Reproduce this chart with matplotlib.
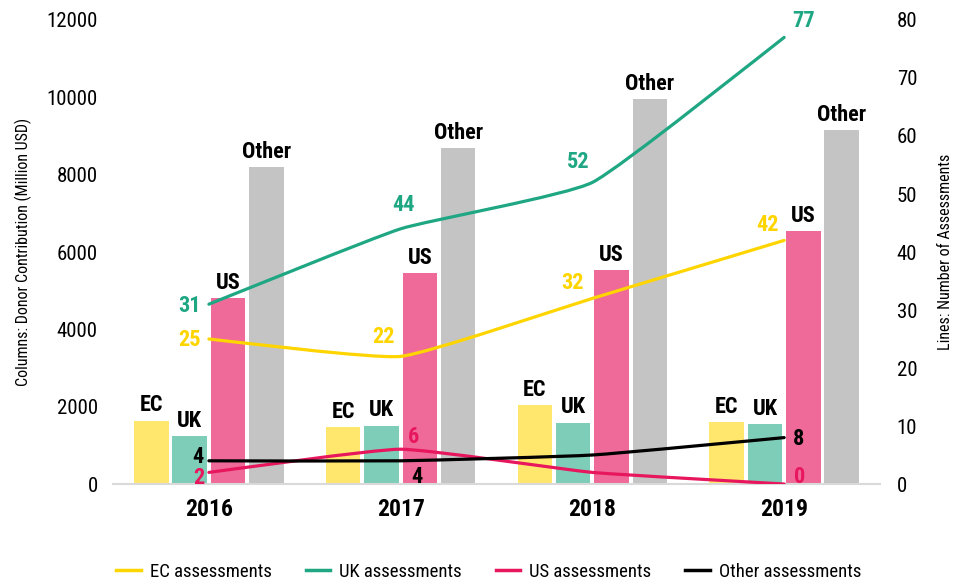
import numpy as np
import matplotlib
matplotlib.use('Agg')
import matplotlib.pyplot as plt
from matplotlib import font_manager as fm
from matplotlib.path import Path
from matplotlib.patches import PathPatch
from matplotlib.lines import Line2D

# ---- pick a condensed font if one is installed ----
names = {f.name for f in fm.fontManager.ttflist}
chosen = None
for cand in ['Roboto Condensed', 'Liberation Sans Narrow', 'Open Sans Condensed',
             'Noto Sans Condensed', 'DejaVu Sans Condensed', 'Arial Narrow']:
    if cand in names:
        chosen = cand
        break
stretch = 'normal'
if chosen is None:
    for fam in ['Roboto', 'Noto Sans', 'Open Sans', 'DejaVu Sans']:
        if any(f.name == fam and f.stretch in ('condensed', 'semi-condensed',
                                                 'extra-condensed', 'ultra-condensed')
               for f in fm.fontManager.ttflist):
            chosen = fam
            stretch = 'condensed'
            break
if chosen is None:
    chosen = 'DejaVu Sans'
plt.rcParams['font.family'] = [chosen, 'DejaVu Sans']
plt.rcParams['font.stretch'] = stretch

# ---- data ----
years = ['2016', '2017', '2018', '2019']
donors = ['EC', 'UK', 'US', 'Other']
ec_funding = [1640, 1480, 2040, 1610]
uk_funding = [1250, 1510, 1590, 1540]
us_funding = [4800, 5460, 5530, 6550]
other_funding = [8200, 8680, 9960, 9160]

ec_assess = [25, 22, 32, 42]
uk_assess = [31, 44, 52, 77]
us_assess = [2, 6, 2, 0]
other_assess = [4, 4, 5, 8]

series_names = ['EC assessments', 'UK assessments', 'US assessments', 'Other assessments']

# ---- styles ----
bar_colors = ['#FFE76E', '#7ECDB9', '#EF6A98', '#C4C4C4']
line_colors = ['#FFD500', '#1FA783', '#E8175D', '#000000']

fig = plt.figure(figsize=(9.66, 5.83), dpi=100)
ax = fig.add_axes([0.117, 0.1698, 0.794, 0.7959])
ax2 = ax.twinx()

x = np.arange(len(years))
fundings = [ec_funding, uk_funding, us_funding, other_funding]
for i, (vals, col, name) in enumerate(zip(fundings, bar_colors, donors)):
    xs = x + (i - 1.5) * 0.2
    ax.bar(xs, vals, 0.18, color=col, zorder=2)
    for xi, v in zip(xs, vals):
        ax.annotate(name, (xi, v), xytext=(0, 3), textcoords='offset points',
                    ha='center', va='bottom', fontsize=16, fontweight='bold',
                    color='black')

ax.set_xlim(-0.5, 3.5)
ax.set_ylim(0, 12000)
ax.set_yticks(np.arange(0, 12001, 2000))
ax.set_xticks(x)
ax.set_xticklabels(years, fontsize=17, fontweight='bold')
ax.tick_params(axis='x', length=0, pad=10)
ax.tick_params(axis='y', length=0, pad=11, labelsize=15)
for s in ['top', 'right', 'left']:
    ax.spines[s].set_visible(False)
ax.spines['bottom'].set_color('#D9D9D9')
ax.spines['bottom'].set_linewidth(1.5)
ax.set_ylabel('Columns: Donor Contribution (Million USD)', fontsize=11.5, labelpad=10)

ax2.set_ylim(0, 80)
ax2.set_yticks(np.arange(0, 81, 10))
ax2.tick_params(axis='y', length=0, pad=12, labelsize=15)
for s in ['top', 'right', 'left', 'bottom']:
    ax2.spines[s].set_visible(False)
ax2.set_ylabel('Lines: Number of Assessments', fontsize=11.5, labelpad=15)


def smooth_path(xs, ys, t=0.07):
    xs = list(xs); ys = list(ys)
    n = len(xs)
    verts = [(xs[0], ys[0])]
    codes = [Path.MOVETO]
    for k in range(n - 1):
        p0 = (xs[max(k - 1, 0)], ys[max(k - 1, 0)])
        p1 = (xs[k], ys[k])
        p2 = (xs[k + 1], ys[k + 1])
        p3 = (xs[min(k + 2, n - 1)], ys[min(k + 2, n - 1)])
        c1 = (p1[0] + (p2[0] - p0[0]) * t, p1[1] + (p2[1] - p0[1]) * t)
        c2 = (p2[0] - (p3[0] - p1[0]) * t, p2[1] - (p3[1] - p1[1]) * t)
        verts += [c1, c2, p2]
        codes += [Path.CURVE4] * 3
    return Path(verts, codes)


assess = [ec_assess, uk_assess, us_assess, other_assess]
for vals, col in zip(assess, line_colors):
    ax2.add_patch(PathPatch(smooth_path(x, vals), facecolor='none',
                            edgecolor=col, lw=2.3, zorder=3, capstyle='round'))

# which points carry a value label, and label offsets (points)
label_offsets = [
    [(-14, -1), (-12, 14), (-14, 11), (-12, 11)],
    [(-14, -1), (2, 17), (-10, 15), (14, 12)],
    [(-7, -4), (9, 9), None, (11, 5)],
    [(-8, 3), (12, -12), None, (10, -1)],
]
for vals, col, offs in zip(assess, line_colors, label_offsets):
    for xi, v, off in zip(x, vals, offs):
        if off is None:
            continue
        ax2.annotate(str(v), (xi, v), xytext=off, textcoords='offset points',
                     ha='center', va='center', fontsize=16, fontweight='bold',
                     color=col, zorder=4)

handles = [Line2D([], [], color=c, lw=2.5) for c in line_colors]
fig.legend(handles, series_names, loc='center', bbox_to_anchor=(0.506, 1 - 572 / 583),
           ncol=4, frameon=False, fontsize=13.5, handlelength=1.3,
           handletextpad=0.5, columnspacing=1.8)

fig.savefig('out.png', dpi=100)
